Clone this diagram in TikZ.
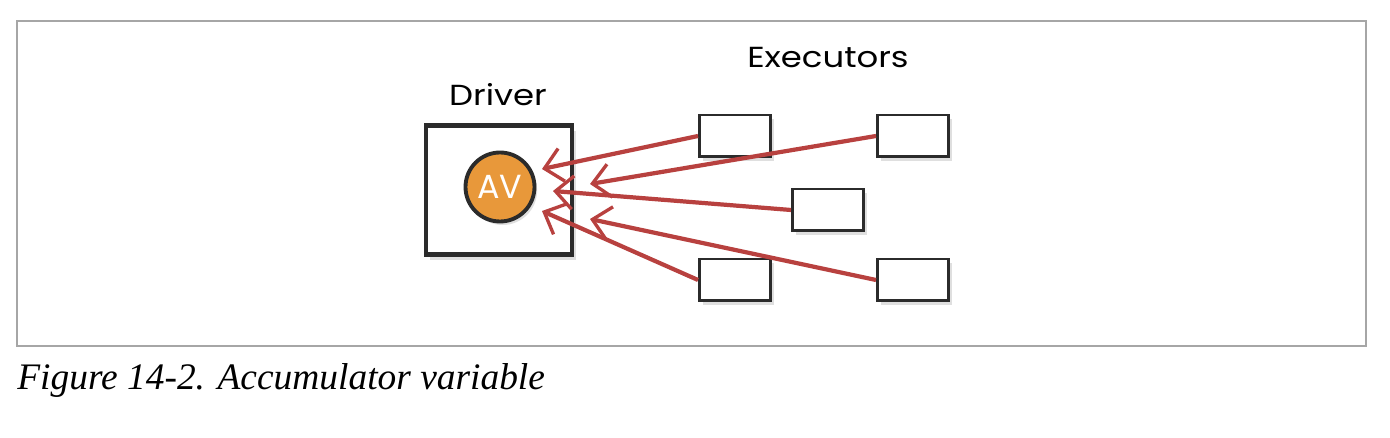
\documentclass[tikz,border=0pt]{standalone}
\usepackage{graphicx}
\usepackage{fontspec}
\newfontfamily\handfont{Poppins}
\newfontfamily\capfont{Liberation Serif}
\usetikzlibrary{arrows.meta,shadows}

\definecolor{avorange}{HTML}{E8983A}
\definecolor{linkred}{HTML}{B8413F}
\definecolor{inkdark}{HTML}{2B2B2B}

% wide, low lettering for the labels
\newcommand{\handtext}[1]{\scalebox{1.17}[1]{#1}}

\tikzset{
    executor/.style={draw=inkdark, line width=1.7pt, fill=white, minimum width=1.42cm, minimum height=0.84cm,
        drop shadow={opacity=0.25, shadow xshift=2pt, shadow yshift=-2.5pt}},
    link/.style={draw=linkred, line width=2.4pt, -{Straight Barb[length=10pt, width=19pt, line width=1.9pt]}},
    label/.style={font=\handfont\fontsize{16.5}{20}\selectfont}
}

\begin{document}
\begin{tikzpicture}[x=0.02cm, y=-0.02cm]
            % Page area and thin frame
            \useasboundingbox (0,0) rectangle (1390,438);
            \draw[gray!70, line width=0.6pt] (17,21) rectangle (1366,346);

            % Driver with the accumulator inside
            \node[draw=inkdark, line width=2.8pt, fill=white, minimum width=2.92cm, minimum height=2.58cm,
                drop shadow={opacity=0.25, shadow xshift=2.5pt, shadow yshift=-3pt}] (driver) at (499,190) {};
            \node[label] (drvlabel) at (498,95) {\handtext{Driver}};
            \node[circle, draw=inkdark, line width=2.2pt, fill=avorange, minimum size=1.38cm,
                font=\handfont\fontsize{19}{22}\selectfont, text=white,
                drop shadow={opacity=0.25, shadow xshift=1.5pt, shadow yshift=-2pt}] (av) at (500,187) {AV};

            % Executors
            \node[label] (exlabel) at (828,58) {\handtext{Executors}};
            \node[executor] (e1) at (735,136) {};
            \node[executor] (e2) at (913,136) {};
            \node[executor] (e3) at (828,210) {};
            \node[executor] (e4) at (735,280) {};
            \node[executor] (e5) at (913,280) {};

            % Arrow tips at the driver
            \coordinate (t1) at (542,169);
            \coordinate (t2) at (590,184);
            \coordinate (t3) at (553,191);
            \coordinate (t4) at (542,211);
            \coordinate (t5) at (590,219);

            \draw[link] (e1.west) -- (t1);
            \draw[link] (e2.west) -- (t2);
            \draw[link] (e3.west) -- (t3);
            \draw[link] (e4.west) -- (t4);
            \draw[link] (e5.west) -- (t5);

            % Caption
            \node[anchor=base west, inner sep=0pt, font=\capfont\itshape\fontsize{21.3}{25}\selectfont] (caption) at (17,390)
                {Figure 14-2. Accumulator variable};
        \end{tikzpicture}
\end{document}
